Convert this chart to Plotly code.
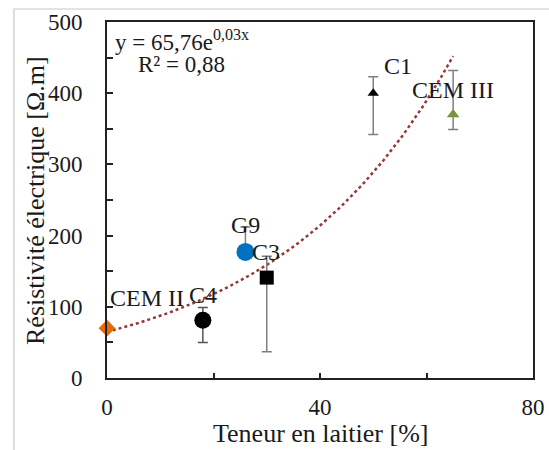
import numpy as np
import plotly.graph_objects as go

# ---- data ----
names = ["CEM II", "C4", "G9", "C3", "C1", "CEM III"]
slag_pct = [0, 18, 26, 30, 50, 65]
resistivity = [70, 81, 177, 141, 400, 370]
err_plus = [0, 18, 35, 30, 23, 62]
err_minus = [0, 31, 0, 104, 58, 21]
symbols = ["diamond", "circle", "circle", "square", "triangle-up", "triangle-up"]
colors = ["#E46C0A", "#000000", "#0070C0", "#000000", "#000000", "#77933C"]
sizes = [13, 17, 18, 14, 10, 11]
err_colors = ["#7F7F7F", "#555555", "#7F7F7F", "#7F7F7F", "#7F7F7F", "#7F7F7F"]

# label positions (data coords)
label_x = [7.6, 18.1, 26.0, 29.9, 54.7, 64.9]
label_y = [113, 117, 215, 177, 438, 405]

eq_text = "y = 65,76e<sup>0,03x</sup>"
r2_text = "R² = 0,88"
x_title = "Teneur en laitier [%]"
y_title = "Résistivité électrique [Ω.m]"

x_ticks = [0, 40, 80]
y_ticks = [0, 100, 200, 300, 400, 500]

FONT = "Times New Roman, Liberation Serif, serif"
TXT = "#1a1a1a"

W, H = 549, 450
L, R, T, B = 107, 16, 22, 72
PW, PH = W - L - R, H - T - B

fig = go.Figure()

# exponential trendline fitted to the data (as the spreadsheet does)
b, a = np.polyfit(np.array(slag_pct, float), np.log(np.array(resistivity, float)), 1)
xt = np.linspace(min(slag_pct), max(slag_pct), 200)
fig.add_trace(go.Scatter(x=xt, y=np.exp(a) * np.exp(b * xt), mode="lines",
                         line=dict(color="#953735", width=2.5, dash="dot"),
                         hoverinfo="skip", showlegend=False))

for i in range(len(names)):
    fig.add_trace(go.Scatter(
        x=[slag_pct[i]], y=[resistivity[i]], mode="markers", name=names[i],
        marker=dict(symbol=symbols[i], color=colors[i], size=sizes[i], line=dict(width=0)),
        error_y=dict(type="data", symmetric=False, array=[err_plus[i]],
                     arrayminus=[err_minus[i]], color=err_colors[i],
                     thickness=1.5, width=5,
                     visible=(err_plus[i] + err_minus[i]) > 0),
        showlegend=False, cliponaxis=False))

for i in range(len(names)):
    fig.add_annotation(x=label_x[i], y=label_y[i], text=names[i], showarrow=False,
                       xanchor="center", yanchor="middle",
                       font=dict(family=FONT, size=24, color=TXT))

fig.add_annotation(x=1.2, y=474, text=eq_text, showarrow=False, xanchor="left",
                   yanchor="middle", font=dict(family=FONT, size=23, color=TXT))
fig.add_annotation(x=5.5, y=441, text=r2_text, showarrow=False, xanchor="left",
                   yanchor="middle", font=dict(family=FONT, size=23, color=TXT))

# axis titles placed in paper coordinates
fig.add_annotation(xref="paper", yref="paper", x=(320 - L) / PW, y=(H - B - 433) / PH,
                   text=x_title, showarrow=False, xanchor="center", yanchor="middle",
                   font=dict(family=FONT, size=26, color=TXT))
fig.add_annotation(xref="paper", yref="paper", x=(35 - L) / PW, y=(H - B - 201) / PH,
                   text=y_title, showarrow=False, xanchor="center", yanchor="middle",
                   textangle=-90, font=dict(family=FONT, size=26, color=TXT))

# outer thin frame of the picture
fig.add_shape(type="rect", xref="paper", yref="paper",
              x0=(14 - L) / PW, x1=(570 - L) / PW,
              y0=(H - B - 470) / PH, y1=(H - B - 9) / PH,
              line=dict(color="#C8C8C8", width=1.2), fillcolor="rgba(0,0,0,0)", layer="below")

fig.update_layout(
    width=W, height=H,
    margin=dict(l=L, r=R, t=T, b=B, autoexpand=False),
    paper_bgcolor="white", plot_bgcolor="white",
    font=dict(family=FONT, size=23, color=TXT),
    showlegend=False,
)
fig.update_xaxes(range=[0, 80], tickvals=x_ticks, ticks="inside", ticklen=5,
                 tickcolor="#222", tickwidth=1.5,
                 minor=dict(dtick=20, ticks="inside", ticklen=5, tickcolor="#222", tickwidth=1.5),
                 showline=True, linecolor="#222", linewidth=1.8, mirror=True,
                 showgrid=False, zeroline=False, ticklabelstandoff=7, automargin=False,
                 tickfont=dict(family=FONT, size=23, color=TXT))
fig.update_yaxes(range=[0, 500], tickvals=y_ticks, ticks="inside", ticklen=6,
                 tickcolor="#222", tickwidth=1.5,
                 minor=dict(dtick=50, ticks="inside", ticklen=6, tickcolor="#222", tickwidth=1.5),
                 showline=True, linecolor="#222", linewidth=1.8, mirror=True,
                 showgrid=False, zeroline=False, ticklabelstandoff=18, automargin=False,
                 tickfont=dict(family=FONT, size=23, color=TXT))

fig.write_html("out.html", config={"displayModeBar": False},
               post_script="document.body.style.margin='0';document.body.style.overflow='hidden';")
